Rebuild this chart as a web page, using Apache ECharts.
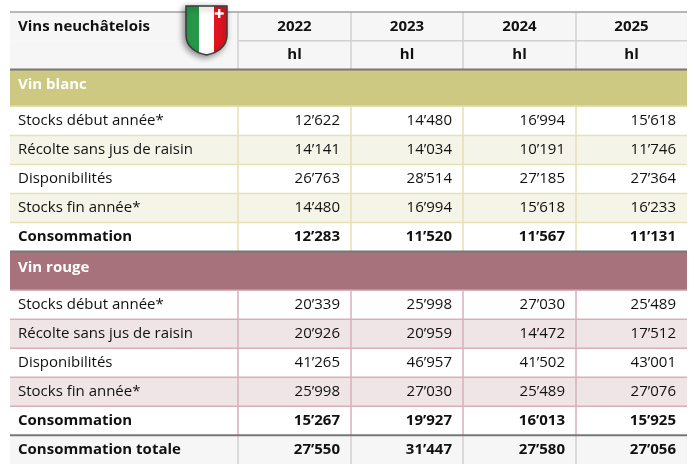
<!DOCTYPE html>
<html>
<head>
<meta charset="utf-8">
<script src="https://cdn.jsdelivr.net/npm/echarts@6/dist/echarts.min.js"></script>
<style>
html,body{margin:0;padding:0;background:#fff;}
#chart{width:697px;height:464px;}
</style>
</head>
<body>
<div id="chart"></div>
<script>
// --- data ---
var title = 'Vins neuchâtelois';
var years = ['2022', '2023', '2024', '2025'];
var unit = 'hl';
var rowNames = ['Stocks début année*', 'Récolte sans jus de raisin', 'Disponibilités', 'Stocks fin année*', 'Consommation'];

var blancStocksDebut = [12622, 14480, 16994, 15618];
var blancRecolte = [14141, 14034, 10191, 11746];
var blancDispo = [26763, 28514, 27185, 27364];
var blancStocksFin = [14480, 16994, 15618, 16233];
var blancConso = [12283, 11520, 11567, 11131];

var rougeStocksDebut = [20339, 25998, 27030, 25489];
var rougeRecolte = [20926, 20959, 14472, 17512];
var rougeDispo = [41265, 46957, 41502, 43001];
var rougeStocksFin = [25998, 27030, 25489, 27076];
var rougeConso = [15267, 19927, 16013, 15925];

var consoTotale = [27550, 31447, 27580, 27056];

// --- look ---
var FONT = '"Open Sans", "Noto Sans", sans-serif';
var themes = {
    head: {bg: '#f6f6f6', alt: '#f6f6f6', line: '#d0d0d0'},
    blanc: {band: '#cdc982', bg: '#ffffff', alt: '#f5f4e8', line: '#e6e1b4'},
    rouge: {band: '#a8727c', bg: '#ffffff', alt: '#efe4e6', line: '#d6b1b7'}
};
var colEdges = [0, 228, 341, 453, 566, 677];

function fmt(n) {
    return String(n).replace(/\B(?=(\d{3})+(?!\d))/g, '\u2019');
}

// table rows built from the arrays above
var rows = [];
function add(r) { rows.push(r); }
add({kind: 'year', h: 29});
add({kind: 'unit', h: 29});
add({kind: 'band', label: 'Vin blanc', theme: 'blanc', h: 37, thick: true});
[blancStocksDebut, blancRecolte, blancDispo, blancStocksFin, blancConso].forEach(function (v, i) {
    add({kind: 'data', label: rowNames[i], values: v, theme: 'blanc', alt: i % 2 === 1, bold: i === 4, h: 29.2});
});
add({kind: 'band', label: 'Vin rouge', theme: 'rouge', h: 39, thick: true});
[rougeStocksDebut, rougeRecolte, rougeDispo, rougeStocksFin, rougeConso].forEach(function (v, i) {
    add({kind: 'data', label: rowNames[i], values: v, theme: 'rouge', alt: i % 2 === 1, bold: i === 4, h: 29.2});
});
add({kind: 'total', label: 'Consommation totale', values: consoTotale, theme: 'head', bold: true, h: 29, thick: true});

var acc = 0;
rows.forEach(function (r) { r.y0 = acc; acc += r.h; r.y1 = acc; });
var total = acc;

function txt(text, x, y, align, bold, color) {
    return {
        type: 'text', x: x, y: y, z2: 5,
        style: {
            text: text, fill: color || '#111111', align: align, verticalAlign: 'middle',
            font: (bold ? 'bold ' : '') + '15px ' + FONT
        }
    };
}

// Neuchâtel shield, drawn next to the title
function shield(x, y) {
    return {
        type: 'group', x: x, y: y,
        children: [{
            type: 'path', z2: 50,
            shape: {pathData: 'M0,0 L41,0 L41,29 C41,41 31,47 20.5,49 C10,47 0,41 0,29 Z'},
            style: {
                fill: new echarts.graphic.LinearGradient(0, 0, 1, 0, [
                    {offset: 0, color: '#27984a'}, {offset: 0.333, color: '#27984a'},
                    {offset: 0.333, color: '#ffffff'}, {offset: 0.667, color: '#ffffff'},
                    {offset: 0.667, color: '#e2141f'}, {offset: 1, color: '#e2141f'}]),
                stroke: '#3a3a3a', lineWidth: 1.5,
                shadowBlur: 6, shadowColor: 'rgba(0,0,0,0.45)', shadowOffsetX: -2, shadowOffsetY: 2
            }
        }, {
            type: 'rect', z2: 51, shape: {x: 32, y: 3, width: 2.4, height: 9}, style: {fill: '#ffffff'}
        }, {
            type: 'rect', z2: 51, shape: {x: 28.7, y: 6.3, width: 9, height: 2.4}, style: {fill: '#ffffff'}
        }]
    };
}

function renderItem(params, api) {
    var r = rows[api.value(0)];
    var yt = api.coord([0, r.y0])[1];
    var yb = api.coord([0, r.y1])[1];
    var ym = (yt + yb) / 2;
    var xs = colEdges.map(function (e) { return api.coord([e, 0])[0]; });
    var th = themes[r.theme || 'head'];
    var kids = [];
    var bg = r.kind === 'band' ? th.band : (r.alt ? th.alt : th.bg);
    kids.push({type: 'rect', shape: {x: xs[0], y: yt, width: xs[5] - xs[0], height: yb - yt}, style: {fill: bg}});

    if (r.kind !== 'band') {
        for (var c = 1; c < 5; c++) {
            kids.push({type: 'line', shape: {x1: xs[c], y1: yt, x2: xs[c], y2: yb},
                style: {stroke: th.line, lineWidth: 1.5}});
        }
    }
    // top border of the row (the title cell spans both header rows)
    var topColor = r.thick ? '#777777' : (r.kind === 'year' ? '#a0a0a0' : th.line);
    var x0 = r.kind === 'unit' ? xs[1] : xs[0];
    kids.push({type: 'line', z2: 3, shape: {x1: x0, y1: yt, x2: xs[5], y2: yt},
        style: {stroke: topColor, lineWidth: r.thick ? 2 : 1.5}});

    if (r.kind === 'year') {
        kids.push(txt(title, xs[0] + 8, ym, 'left', true));
        years.forEach(function (y, i) { kids.push(txt(y, (xs[i + 1] + xs[i + 2]) / 2, ym, 'center', true)); });
        kids.push(shield(xs[1] - 52, yt - 6));
    } else if (r.kind === 'unit') {
        years.forEach(function (y, i) { kids.push(txt(unit, (xs[i + 1] + xs[i + 2]) / 2, ym, 'center', true)); });
    } else if (r.kind === 'band') {
        kids.push(txt(r.label, xs[0] + 8, ym - 3, 'left', true, '#ffffff'));
    } else {
        kids.push(txt(r.label, xs[0] + 8, ym, 'left', r.bold));
        r.values.forEach(function (v, i) { kids.push(txt(fmt(v), xs[i + 2] - 11, ym, 'right', r.bold)); });
    }
    return {type: 'group', children: kids};
}

var chart = echarts.init(document.getElementById('chart'));
chart.setOption({
    animation: false,
    grid: {left: 10, top: 12, width: 677, height: total},
    xAxis: {type: 'value', min: 0, max: colEdges[5], show: false},
    yAxis: {type: 'value', min: 0, max: total, inverse: true, show: false},
    series: [{
        type: 'custom',
        renderItem: renderItem,
        clip: false,
        data: rows.map(function (r, i) { return [i, r.y0]; })
    }]
});
</script>
</body>
</html>
